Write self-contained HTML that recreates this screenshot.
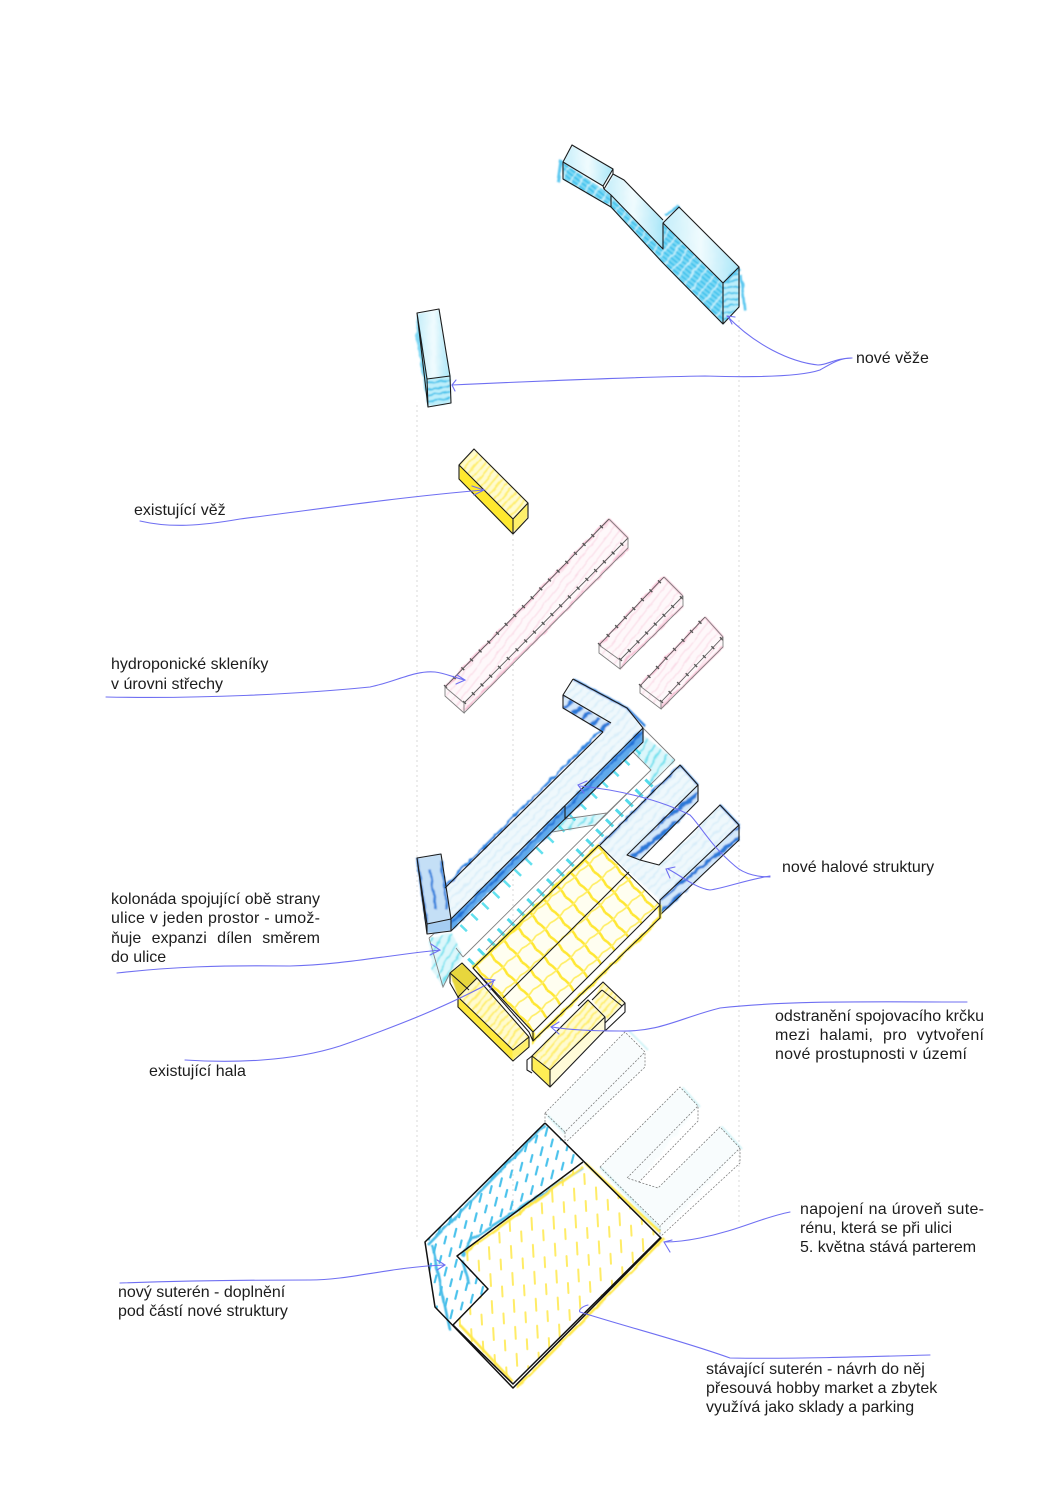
<!DOCTYPE html>
<html><head><meta charset="utf-8"><style>
html,body{margin:0;padding:0;background:#fff;width:1060px;height:1500px;overflow:hidden}
svg{display:block}
text{font-family:"Liberation Sans",sans-serif;font-size:16px;fill:#1c1c1c}
.k{fill:none;stroke:#1c1c1c;stroke-width:1.1;stroke-linejoin:round}
.K{fill:none;stroke:#111;stroke-width:1.5;stroke-linejoin:round}
.g{fill:none;stroke:#808080;stroke-width:.9}
.d{fill:none;stroke:#777;stroke-width:.75;stroke-dasharray:2 1.5}
.b{fill:none;stroke:#6f6ff2;stroke-width:1.1;stroke-linecap:round}
.v{stroke:#d8d8d8;stroke-width:1;stroke-dasharray:2 3}
</style></head><body>
<svg width="1060" height="1500" viewBox="0 0 1060 1500" xmlns="http://www.w3.org/2000/svg">
<defs>
<filter id="s" x="-10%" y="-10%" width="120%" height="120%"><feTurbulence type="fractalNoise" baseFrequency=".12" numOctaves="2" seed="4"/><feDisplacementMap in="SourceGraphic" scale="4"/><feGaussianBlur stdDeviation=".8"/></filter>
<filter id="t" x="-5%" y="-5%" width="110%" height="110%"><feTurbulence type="fractalNoise" baseFrequency=".08" numOctaves="2" seed="9"/><feDisplacementMap in="SourceGraphic" scale="3"/><feGaussianBlur stdDeviation=".4"/></filter>
<linearGradient id="tp" x1="0" y1="0" x2="1" y2="0"><stop offset="0" stop-color="#c4eefa"/><stop offset=".5" stop-color="#f0fbfe"/><stop offset="1" stop-color="#a8e6f8"/></linearGradient>
<pattern id="cy" width="9" height="8" patternUnits="userSpaceOnUse" patternTransform="rotate(38)"><rect width="9" height="8" fill="#7fdaf5"/><path d="M0 2H9M0 6H9" stroke="#29bcec" stroke-width="1.6"/><path d="M3 0V8" stroke="#d0f3fc" stroke-width="1.6"/></pattern>
<pattern id="cy2" width="8" height="6" patternUnits="userSpaceOnUse" patternTransform="rotate(-10)"><rect width="8" height="6" fill="#bdeefa"/><path d="M0 2H8" stroke="#2cbdea" stroke-width="1.6"/></pattern>
<pattern id="pi" width="7" height="7" patternUnits="userSpaceOnUse" patternTransform="rotate(38)"><rect width="7" height="7" fill="#fef8fa"/><path d="M3 0V7" stroke="#fbd9e6" stroke-width="1.1"/></pattern>
<pattern id="yh" width="19" height="19" patternUnits="userSpaceOnUse" patternTransform="rotate(48)"><path d="M0 9Q9 6 19 9" fill="none" stroke="#ffe733" stroke-width="2.6"/><path d="M9 0Q12 9 9 19" fill="none" stroke="#ffee66" stroke-width="1.7"/></pattern>
<pattern id="yd" width="22" height="27" patternUnits="userSpaceOnUse" patternTransform="rotate(-3)"><path d="M5 2v12M16 15v10" stroke="#ffec66" stroke-width="2" stroke-linecap="round"/></pattern>
<pattern id="bd" width="16" height="20" patternUnits="userSpaceOnUse" patternTransform="rotate(14)"><path d="M4 2v8M12 12v7" stroke="#4cc3ec" stroke-width="2.2" stroke-linecap="round"/></pattern>
<pattern id="bl" width="8" height="8" patternUnits="userSpaceOnUse" patternTransform="rotate(45)"><rect width="8" height="8" fill="#5fa9ec"/><path d="M4 0V8" stroke="#1f6fd6" stroke-width="2"/></pattern>
<pattern id="bu" width="10" height="10" patternUnits="userSpaceOnUse" patternTransform="rotate(52)"><rect width="10" height="10" fill="#d4e8fa"/><path d="M5 0V10" stroke="#2a79d8" stroke-width="4"/></pattern>
<pattern id="lb" width="7" height="7" patternUnits="userSpaceOnUse" patternTransform="rotate(45)"><rect width="7" height="7" fill="#eff8fc"/><path d="M3 0V7" stroke="#d6edf9" stroke-width="1.5"/></pattern>
<pattern id="tl" width="8" height="8" patternUnits="userSpaceOnUse" patternTransform="rotate(30)"><rect width="8" height="8" fill="#dcf7fb"/><path d="M3 0V8" stroke="#6ee0ee" stroke-width="1.8"/></pattern>
<pattern id="yp" width="6" height="6" patternUnits="userSpaceOnUse" patternTransform="rotate(40)"><rect width="6" height="6" fill="#fffbd0"/><path d="M3 0V6" stroke="#ffef70" stroke-width="2"/></pattern>
</defs>
<rect width="1060" height="1500" fill="#fff"/>

<line class="v" x1="417" y1="405" x2="417" y2="1240"/>
<line class="v" x1="513" y1="534" x2="513" y2="1385"/>
<line class="v" x1="739" y1="320" x2="739" y2="1225"/>

<!-- tower 1 -->
<g filter="url(#s)">
<path d="M563 162L563 179 611 207 663 263 723 324 723 283 663 223 663 249 611 195Z" fill="url(#cy)"/>
<path d="M723 283L739 267 739 307 723 324Z" fill="url(#cy2)"/>
<path d="M572 145L613 169 603 186 563 162Z" fill="url(#tp)"/>
<path d="M613 174L624 180 663 220 663 249 604 189Z" fill="url(#tp)"/>
<path d="M679 207L739 267 723 283 663 223Z" fill="url(#tp)"/>
<path d="M561 160l-3 22M741 275l4 35M665 215l14-9M725 282l14-14" stroke="#5cc8f0" stroke-width="3" fill="none"/>
</g>
<path class="k" d="M572 145L613 169 603 186 563 162ZM613 169L613 174 604 189 603 186M563 162V179L611 207 663 263 723 324 739 307V267L679 207 663 223 723 283 739 267M723 283V324M613 174L624 180 663 220M604 189L611 195 663 249V223M611 195V207"/>

<!-- tower 2 -->
<g filter="url(#s)">
<path d="M417 313L439 309 450 376 427 379Z" fill="url(#tp)"/>
<path d="M417 313L427 379 428 407 416 340Z" fill="#7fd8f4"/>
<path d="M427 379L450 376 451 403 428 407Z" fill="url(#cy2)"/>
</g>
<path class="k" d="M417 313L439 309 450 376 451 403 428 407 417 313ZM427 379L450 376M417 313L427 379 428 407"/>

<!-- existing tower -->
<g filter="url(#t)">
<path d="M474 449L528 503 513 519 459 465Z" fill="url(#yp)"/>
<path d="M459 465L513 519 513 534 459 479Z" fill="#ffe92e"/>
<path d="M513 519L528 503 528 518 513 534Z" fill="#fff06a"/>
</g>
<path class="k" d="M474 449L528 503 513 519 459 465ZM459 465V479L513 534 528 518V503M513 519V534"/>

<!-- greenhouses -->
<g filter="url(#t)">
<path d="M609 519L628 538 628 548 464 713 445 696V687Z" fill="url(#pi)"/>
<path d="M664 577L683 596 683 606 620 669 599 653V645Z" fill="url(#pi)"/>
<path d="M705 617L723 637 723 647 661 709 640 693V686Z" fill="url(#pi)"/>
<path d="M609 519l19 19M664 577l19 19M705 617l18 20M464 711L628 548M620 667L683 606M661 707L723 647M445 687L609 519M599 645L664 577M640 686L705 617" stroke="#f7bdd3" stroke-width="2" fill="none"/>
</g>
<g fill="none" stroke="#5a5a5a" stroke-width=".9">
<path d="M445 687L609 519M464 703L628 538M599 645L664 577M620 660L683 596M640 686L705 617M661 702L723 637"/>
</g>
<g fill="none" stroke="#555" stroke-width="4" stroke-dasharray="1.4 11">
<path d="M445 687L609 519M464 703L628 538M599 645L664 577M620 660L683 596M640 686L705 617M661 702L723 637"/>
</g>
<g class="g"><path d="M445 687L464 703V713L445 696ZM464 713L628 548V538L609 519M599 645L620 660V669L599 653ZM620 669L683 606V596L664 577M640 686L661 702V709L640 693ZM661 709L723 647V637L705 617"/></g>

<!-- colonnade glass -->
<g filter="url(#s)">
<path d="M643 735L675 760 650 786 651 770 633 752Z" fill="url(#tl)"/>
<path d="M565 819L607 813 595 825 552 832Z" fill="url(#tl)"/>
<path d="M429 938L452 933 463 957 450 973 443 987 432 970Z" fill="url(#tl)"/>
</g>
<path fill="none" stroke="#3cd8ea" stroke-width="9" stroke-dasharray="2.5 13" d="M638 750L454 938" opacity=".8"/>
<path fill="none" stroke="#35d5e8" stroke-width="10" stroke-dasharray="3 11" d="M650 782L468 966" opacity=".85"/>
<path class="g" d="M675 760L643 728M675 760L486 950M633 752L651 770 607 813 565 819M651 770L463 957M552 832L595 825 607 813M429 938L443 987 450 973M429 938L451 919M463 957L456 948"/>

<!-- L hall -->
<g filter="url(#s)">
<path d="M573 679L627 708 643 728 451 919 445 888 603 732 563 695Z" fill="url(#lb)"/>
<path d="M643 728V742L451 931V919Z" fill="url(#bl)"/>
<path d="M563 695L603 720 611 723 603 732 563 708Z" fill="url(#bu)"/>
<path d="M417 858L441 854 451 919 427 924Z" fill="#c4dff6"/>
<path d="M417 858l10 66M441 860l6 50M430 870l6 40" stroke="#3a85de" stroke-width="2.5" fill="none"/>
<path d="M427 924L451 919 451 931 427 934Z" fill="#a5cdf2"/>
<path d="M603 728L445 886M573 679L627 708 645 726" stroke="#2c80e0" stroke-width="2.3" fill="none"/>
</g>
<path class="k" d="M573 679L563 695V708L603 732M563 695L611 723M573 679L627 708 643 728V742L451 931V919L643 728M603 732L445 888M417 858L441 854 451 919 427 924ZM427 924V934L451 931M417 858L427 934M565 806V819L635 750"/>

<!-- U -->
<g filter="url(#s)">
<path d="M680 765L698 785 627 855 659 865 720 805 739 825 660 900 599 845Z" fill="url(#lb)"/>
<path d="M698 785V801L640 860 627 855Z" fill="url(#bu)"/>
<path d="M739 825V840L660 915V900Z" fill="url(#bu)"/>
<path d="M680 765L600 845M680 765L698 785M720 805L739 825" stroke="#2c80e0" stroke-width="2" fill="none"/>
</g>
<path class="k" d="M600 845L680 765 698 785V801L640 860M698 785L627 855 640 860 659 865 720 805 739 825V840L660 915V900L739 825"/>

<!-- existing hall -->
<path d="M599 845L660 905 533 1032 473 968Z" fill="#fffef0"/>
<path d="M599 845L660 905 533 1032 473 968Z" fill="url(#yh)"/>
<path d="M599 845L473 968M660 905L660 918 533 1041 533 1032" stroke="#ffe92e" stroke-width="3" fill="none" filter="url(#t)"/>
<g filter="url(#t)">
<path d="M462 963L477 978 458 997 450 973Z" fill="#e7d63c"/>
<path d="M477 978L529 1037 513 1050 458 997Z" fill="url(#yp)"/>
<path d="M458 997L513 1050V1061L458 1007Z" fill="#ffe93a"/>
<path d="M513 1050L529 1037V1047L513 1061Z" fill="#fff06a"/>
</g>
<path class="k" d="M599 845L473 968M599 845L660 905 533 1032 473 968 529 1032 533 1041 660 918V905M629 872L503 998M533 1032V1041M450 973L462 963 477 978 458 997 450 983V973L469 990M458 997V1007L513 1061 529 1047V1037L513 1050 458 997M477 978L529 1037"/>

<!-- small existing -->
<g filter="url(#t)">
<path d="M588 1000L605 1017 550 1070 532 1056Z" fill="url(#yp)"/>
<path d="M532 1056L550 1070V1087L532 1070Z" fill="#ffee55"/>
<path d="M550 1070L605 1017V1030L550 1087Z" fill="#fffbd8"/>
<path d="M603 982L625 1003 608 1020 592 1000Z" fill="url(#yp)"/>
</g>
<path class="k" d="M588 1000L605 1017 550 1070 532 1056ZM532 1056V1070L550 1087 605 1030V1017M550 1070V1087M532 1056L527 1060V1070L532 1073M578 1006L603 982 625 1003 605 1023M602 990L592 1000 M602 990L622 1006M625 1003V1012L605 1031"/>

<!-- ghost -->
<g filter="url(#s)" opacity=".5">
<path d="M625 1032L645 1052V1067L567 1142 545 1113Z" fill="#f4fbfc"/>
<path d="M600 1167L680 1087 698 1106 639 1182 658 1188 720 1127 740 1148 660 1237Z" fill="#f2fbfc"/>
<path d="M628 1030l20 20M600 1167l60 62M682 1087l18 20M722 1127l20 22M547 1115l18 18" stroke="#a6e8ee" stroke-width="2" fill="none"/>
</g>
<path class="d" d="M545 1113L625 1032 645 1052 565 1132ZM565 1132V1143L645 1067V1052M545 1113V1123M600 1167L680 1087 698 1106V1121L639 1182 627 1178 698 1106M639 1182L658 1188 720 1127 740 1148V1163L660 1237V1226L740 1148M600 1167L660 1226"/>

<!-- basement -->
<path d="M583 1162L457 1256 488 1289 453 1325 513 1384 661 1237Z" fill="#fff"/>
<path d="M583 1162L457 1256 488 1289 453 1325 513 1384 661 1237Z" fill="url(#yd)"/>
<path d="M545 1123L425 1242 435 1307 453 1325 488 1289 457 1256 583 1162Z" fill="url(#bd)"/>
<g filter="url(#t)" fill="none">
<path d="M545 1125L428 1245M583 1168L470 1240 462 1256M450 1330L432 1245M462 1260L470 1285" stroke="#49bde8" stroke-width="2.6"/>
<path d="M583 1167L465 1252M460 1325L513 1382M664 1238L517 1388M585 1163L660 1232" stroke="#ffe84a" stroke-width="2.6"/>
</g>
<path class="K" d="M545 1123L425 1242 435 1307 513 1388 661 1238 545 1123M583 1162L457 1256 488 1289 453 1325 513 1384 661 1237"/>

<!-- leaders -->
<g class="b">
<path d="M727 316C755 345 790 362 818 365 828 365 835 358 852 358"/>
<path d="M452 385C560 380 640 377 705 376 770 378 805 375 820 370 832 363 840 358 852 358"/>
<path d="M140 521C170 528 200 526 240 519 320 509 400 497 484 490M472 486L484 490 474 495"/>
<path d="M106 697C200 699 300 694 370 687 395 682 415 670 435 672 445 673 455 678 465 680M457 675L465 680 456 684"/>
<path d="M580 786C620 790 660 800 690 815 700 825 710 845 735 866 745 875 760 877 770 877M587 781L578 785 584 793"/>
<path d="M770 876C745 880 725 888 710 890 695 888 680 875 668 869M675 867L666 869 670 878"/>
<path d="M117 973C170 967 220 965 290 966 340 965 390 955 440 950M431 944L440 950 430 955"/>
<path d="M185 1060C230 1063 290 1062 340 1046 400 1025 450 1005 495 980M484 979L494 980 490 990"/>
<path d="M967 1002C880 1002 790 1000 720 1008 680 1018 660 1032 620 1031 590 1031 570 1030 552 1027M559 1022L551 1027 559 1034"/>
<path d="M790 1212C760 1218 740 1230 700 1238 685 1241 675 1242 665 1242M672 1240L664 1242 670 1252"/>
<path d="M120 1283C180 1281 250 1280 310 1280 350 1280 390 1267 445 1265M437 1260L445 1265 437 1270"/>
<path d="M930 1355C860 1357 790 1359 730 1358 680 1340 630 1328 580 1312 578 1310 583 1306 588 1305"/>
<path d="M728 316l4 8M727 316l8 1M452 385l4-5M452 385l3 6"/>
</g>

<!-- labels -->
<text x="856" y="363">nové věže</text>
<text x="134" y="515">existující věž</text>
<text x="111" y="669">hydroponické skleníky</text>
<text x="111" y="689">v úrovni střechy</text>
<text x="782" y="872">nové halové struktury</text>
<text x="111" y="904" textLength="209" lengthAdjust="spacing">kolonáda spojující obě strany</text>
<text x="111" y="923" textLength="209" lengthAdjust="spacing">ulice v jeden prostor - umož-</text>
<text x="111" y="943" textLength="209" lengthAdjust="spacing" word-spacing="6">ňuje expanzi dílen směrem</text>
<text x="111" y="962">do ulice</text>
<text x="775" y="1021" textLength="209" lengthAdjust="spacing">odstranění spojovacího krčku</text>
<text x="775" y="1040" textLength="209" lengthAdjust="spacing" word-spacing="5">mezi halami, pro vytvoření</text>
<text x="775" y="1059" textLength="192" lengthAdjust="spacing">nové prostupnosti v území</text>
<text x="149" y="1076">existující hala</text>
<text x="800" y="1214" textLength="184" lengthAdjust="spacing">napojení na úroveň sute-</text>
<text x="800" y="1233">rénu, která se při ulici</text>
<text x="800" y="1252">5. května stává parterem</text>
<text x="118" y="1297">nový suterén - doplnění</text>
<text x="118" y="1316">pod částí nové struktury</text>
<text x="706" y="1374">stávající suterén - návrh do něj</text>
<text x="706" y="1393">přesouvá hobby market a zbytek</text>
<text x="706" y="1412">využívá jako sklady a parking</text>
</svg>
</body></html>
